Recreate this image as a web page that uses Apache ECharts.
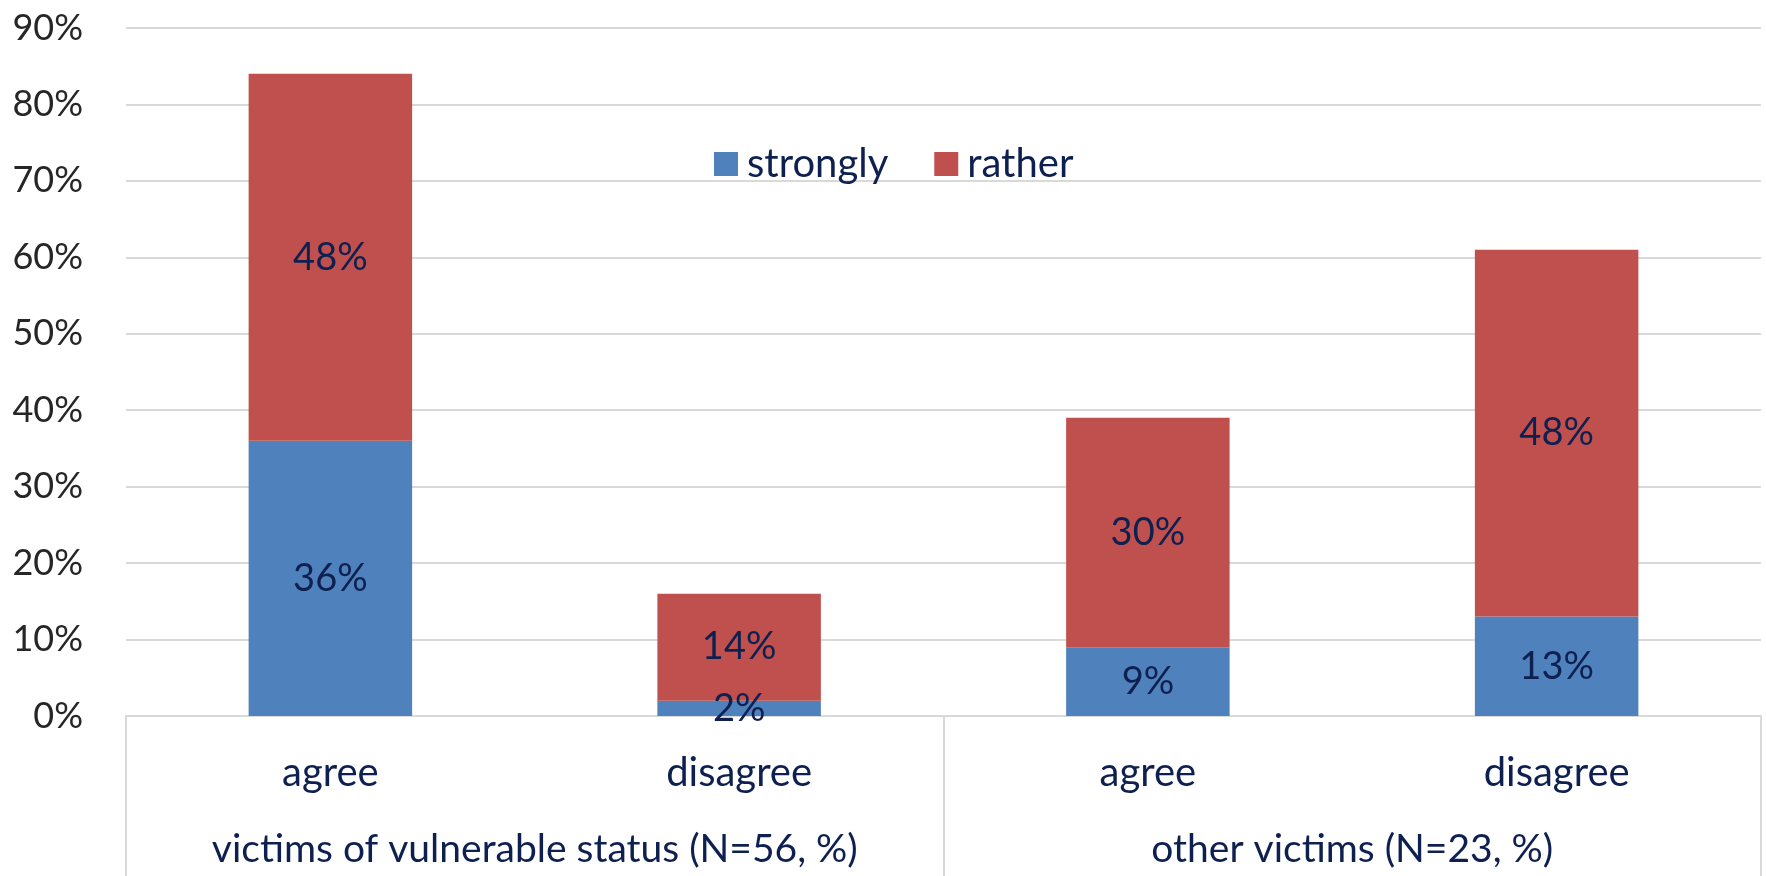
<!DOCTYPE html>
<html>
<head>
<meta charset="utf-8">
<script src="https://cdn.jsdelivr.net/npm/echarts@6/dist/echarts.min.js"></script>
<style>
  html, body { margin: 0; padding: 0; background: #fff; }
  #chart { width: 1766px; height: 876px; }
</style>
</head>
<body>
<div id="chart"></div>
<script>
// answer categories, grouped by respondent type
var answers = ['agree', 'disagree', 'agree', 'disagree'];
var groups = ['victims of vulnerable status (N=56, %)', 'other victims (N=23, %)'];
var strongly = [36, 2, 9, 13];
var rather = [48, 14, 30, 48];

var navy = '#0e2050';
var gridGrey = '#d9d9d9';
var font = 'Lato, "Open Sans", sans-serif';

function barLabel() {
	return {
		show: true,
		position: 'inside',
		formatter: '{c}%',
		color: navy,
		fontFamily: font,
		fontSize: 38
	};
}

var option = {
	animation: false,
	textStyle: { fontFamily: font },
	grid: {
		left: 126,
		right: 5,
		top: 28,
		bottom: 160
	},
	legend: {
		left: 714,
		top: 144,
		padding: 0,
		icon: 'rect',
		itemWidth: 24,
		itemHeight: 24,
		itemGap: 46,
		textStyle: {
			color: navy,
			fontFamily: font,
			fontSize: 40,
			padding: [0, 0, 0, 4]
		},
		data: ['strongly', 'rather']
	},
	xAxis: [{
		type: 'category',
		data: answers,
		position: 'bottom',
		axisLine: { show: true, lineStyle: { color: gridGrey, width: 2 } },
		axisTick: { show: false },
		axisLabel: {
			interval: 0,
			color: navy,
			fontFamily: font,
			fontSize: 40,
			margin: 37
		}
	}, {
		// second level of the category axis: respondent groups
		type: 'category',
		data: groups,
		position: 'bottom',
		axisLine: { show: false },
		axisTick: {
			show: true,
			interval: 0,
			length: 162,
			lineStyle: { color: gridGrey, width: 2 }
		},
		axisLabel: {
			interval: 0,
			color: navy,
			fontFamily: font,
			fontSize: 39,
			margin: 114
		}
	}],
	yAxis: {
		type: 'value',
		min: 0,
		max: 90,
		interval: 10,
		axisLine: { show: false },
		axisTick: { show: false },
		axisLabel: {
			formatter: '{value}%',
			color: '#262626',
			fontFamily: font,
			fontSize: 36,
			margin: 43
		},
		splitLine: { lineStyle: { color: gridGrey, width: 2 } }
	},
	series: [{
		name: 'strongly',
		type: 'bar',
		stack: 'total',
		barCategoryGap: '60%',
		itemStyle: { color: '#4f81bd' },
		label: barLabel(),
		data: strongly
	}, {
		name: 'rather',
		type: 'bar',
		stack: 'total',
		barCategoryGap: '60%',
		itemStyle: { color: '#c0504d' },
		label: barLabel(),
		data: rather
	}]
};

var myChart = echarts.init(document.getElementById('chart'));
myChart.setOption(option);
</script>
</body>
</html>
